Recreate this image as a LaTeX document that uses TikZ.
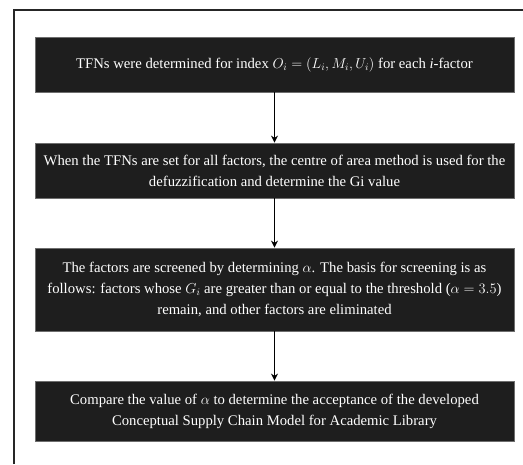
\documentclass[tikz,border=0pt]{standalone}
\usepackage{fontspec}
\setmainfont{Liberation Serif}
\usetikzlibrary{arrows.meta}
\definecolor{boxfill}{HTML}{1E1E1E}
\definecolor{boxedge}{HTML}{6E6E6E}
\tikzset{
  stepbox/.style={draw=boxedge, line width=0.8pt, fill=boxfill, text=white,
    minimum width=479pt, align=center, inner sep=0pt,
    font=\fontsize{14.7}{21}\selectfont},
  flow/.style={line width=1.8pt, -{Stealth[length=7pt,width=7pt]}},
  frame/.style={line width=2pt, draw=black!85}
}
\begin{document}
\begin{tikzpicture}[x=1pt,y=-1pt]
\useasboundingbox (0,0) rectangle (523,464);
\draw[frame] (14,464) -- (14,10) -- (523,10);
\node[stepbox, minimum height=55pt] (b1) at (274.5,64.5)
  {TFNs were determined for index $O_i=(L_i,M_i,U_i)$ for each \textit{i}-factor};
\node[stepbox, minimum height=55pt] (b2) at (274.5,170.5)
  {When the TFNs are set for all factors, the centre of area method is used for the\\defuzzification and determine the Gi value};
\node[stepbox, minimum height=83pt] (b3) at (274.5,289.5)
  {The factors are screened by determining $\alpha$. The basis for screening is as\\follows: factors whose $G_i$ are greater than or equal to the threshold ($\alpha = 3.5$)\\remain, and other factors are eliminated};
\node[stepbox, minimum height=60pt] (b4) at (274.5,411)
  {Compare the value of $\alpha$ to determine the acceptance of the developed\\Conceptual Supply Chain Model for Academic Library};
\draw[flow] (b1) -- (b2);
\draw[flow] (b2) -- (b3);
\draw[flow] (b3) -- (b4);
\end{tikzpicture}
\end{document}
